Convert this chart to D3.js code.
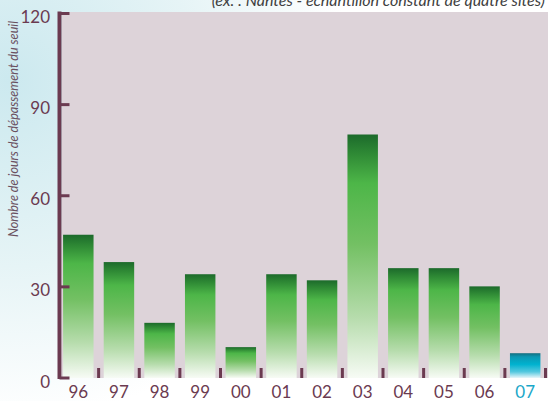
<!DOCTYPE html>
<html><head><meta charset="utf-8">
<script src="https://cdn.jsdelivr.net/npm/d3@7"></script>
<style>html,body{margin:0;padding:0;background:#fff;overflow:hidden}</style>
</head><body>
<svg id="c" width="548" height="401"></svg>
<script>
const categories = ["96","97","98","99","00","01","02","03","04","05","06","07"];
const values = [47, 38, 18, 34, 10, 34, 32, 80, 36, 36, 30, 8];
const yTicks = [0, 30, 60, 90, 120];
const yTitle = "Nombre de jours de dépassement du seuil";
const topNote = "(ex. : Nantes - échantillon constant de quatre sites)";

const W = 548, H = 401;
const svg = d3.select("#c");
const defs = svg.append("defs");

// page background glow
const rg = defs.append("radialGradient").attr("id","bgGlow")
  .attr("gradientUnits","userSpaceOnUse").attr("cx",10).attr("cy",80).attr("r",340);
rg.append("stop").attr("offset","0%").attr("stop-color","#cce9ef");
rg.append("stop").attr("offset","55%").attr("stop-color","#e6f4f6");
rg.append("stop").attr("offset","100%").attr("stop-color","#ffffff");
svg.append("rect").attr("width",W).attr("height",H).attr("fill","url(#bgGlow)");

const green = defs.append("linearGradient").attr("id","gGreen").attr("x1",0).attr("y1",0).attr("x2",0).attr("y2",1);
[["0%","#1c6a2b"],["8%","#2f8a35"],["20%","#4db648"],["45%","#73c063"],["75%","#b6dcac"],["100%","#f7fbf5"]]
  .forEach(([o,c])=>green.append("stop").attr("offset",o).attr("stop-color",c));
const blue = defs.append("linearGradient").attr("id","gBlue").attr("x1",0).attr("y1",0).attr("x2",0).attr("y2",1);
[["0%","#136f80"],["15%","#0a98b3"],["45%","#00b2cf"],["75%","#55c8df"],["100%","#e8f6fa"]]
  .forEach(([o,c])=>blue.append("stop").attr("offset",o).attr("stop-color",c));

const plotL = 62, plotR = 548, plotT = 12, plotB = 378;
const axisCol = "#6b3a50";

svg.append("rect").attr("x",plotL).attr("y",plotT).attr("width",plotR-plotL).attr("height",plotB-plotT)
  .attr("fill","#ddd3d9");

const x = d3.scaleBand().domain(categories).range([58, 545.5]).paddingInner(0.25).paddingOuter(0.125);
const y = d3.scaleLinear().domain([0,120]).range([377.5, 13]);

// bars
svg.append("g").selectAll("rect").data(categories).join("rect")
  .attr("x", d=>x(d)).attr("width", x.bandwidth())
  .attr("y", (d,i)=>y(values[i])).attr("height",(d,i)=>plotB - y(values[i]))
  .attr("fill",(d,i)=> i===categories.length-1 ? "url(#gBlue)" : "url(#gGreen)");

// separator ticks at bottom between bands
const step = x.step();
svg.append("g").selectAll("rect").data(categories).join("rect")
  .attr("x", d=> x(d) + x.bandwidth() + step*0.125 - 1.5)
  .attr("y", plotB-10).attr("width",3).attr("height",10)
  .attr("fill", axisCol);

// y axis
const yAxis = d3.axisRight(y).tickValues(yTicks).tickSize(10).tickFormat("");
const ga = svg.append("g").attr("transform","translate(59.5,0)").call(yAxis);
ga.select(".domain").remove();
ga.selectAll(".tick line").attr("stroke",axisCol).attr("stroke-width",3);
svg.append("line").attr("x1",59.5).attr("x2",59.5).attr("y1",11.5).attr("y2",379)
  .attr("stroke",axisCol).attr("stroke-width",4);

svg.append("g").selectAll("text").data(yTicks).join("text")
  .attr("x",50).attr("y",d=>y(d)+10).attr("text-anchor","end")
  .attr("font-family","Lato, sans-serif").attr("font-size",17).attr("fill",axisCol)
  .text(d=>d);

// x labels
svg.append("g").selectAll("text").data(categories).join("text")
  .attr("x",d=>x(d)+x.bandwidth()/2).attr("y",398).attr("text-anchor","middle")
  .attr("font-family","Lato, sans-serif").attr("font-size",17)
  .attr("fill",(d,i)=> i===categories.length-1 ? "#1aa7c9" : axisCol)
  .text(d=>d);

// y title
svg.append("text").attr("transform","translate(18,129) rotate(-90)")
  .attr("text-anchor","middle").attr("font-family","Lato, sans-serif")
  .attr("font-style","italic").attr("font-size",12.6).attr("fill","#6a5060")
  .text(yTitle);

// top note (cut off)
svg.append("text").attr("x",545).attr("y",6).attr("text-anchor","end")
  .attr("font-family","Lato, sans-serif").attr("font-style","italic").attr("font-size",16)
  .attr("fill","#404040").text(topNote);
</script>
</body></html>
